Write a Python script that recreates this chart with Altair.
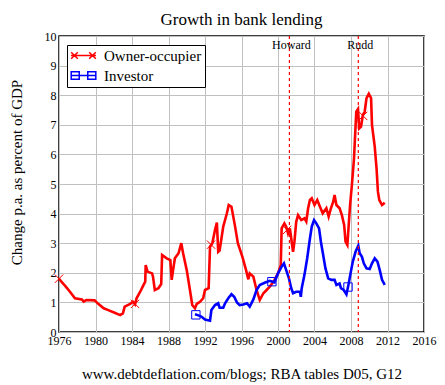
import altair as alt
import pandas as pd

FONT = "Liberation Serif"

# ---- data ----
series_names = ["Owner-occupier", "Investor"]

owner_year = [1976.0, 1976.4, 1976.7, 1977.2, 1977.75, 1978.5, 1978.7, 1979.0, 1979.9, 1980.3,
              1980.9, 1981.4, 1982.1, 1982.7, 1983.0, 1983.2, 1983.8, 1984.1, 1984.33, 1984.5,
              1984.9, 1985.2, 1985.45, 1985.5, 1985.7, 1986.2, 1986.3, 1986.5, 1986.9, 1987.2,
              1987.3, 1987.8, 1988.2, 1988.35, 1988.5, 1988.7, 1989.1, 1989.4, 1989.6, 1990.0,
              1990.35, 1990.6, 1990.9, 1991.1, 1991.45, 1991.8, 1992.0, 1992.4, 1992.55, 1992.8,
              1993.1, 1993.3, 1993.45, 1993.6, 1994.0, 1994.4, 1994.6, 1994.9, 1995.3, 1995.6,
              1996.1, 1996.5, 1996.75, 1996.9, 1997.3, 1997.65, 1998.0, 1998.4, 1998.75, 1999.1,
              1999.6, 2000.0, 2000.3, 2000.4, 2000.7, 2000.9, 2001.1, 2001.3, 2001.45, 2001.65,
              2001.8, 2002.0, 2002.2, 2002.55, 2002.9, 2003.1, 2003.3, 2003.5, 2003.7, 2004.0,
              2004.3, 2004.6, 2004.9, 2005.3, 2005.55, 2005.8, 2006.05, 2006.2, 2006.4, 2006.75,
              2007.0, 2007.25, 2007.4, 2007.6, 2007.75, 2007.9, 2008.1, 2008.33, 2008.47, 2008.58,
              2008.77, 2008.9, 2009.1, 2009.3, 2009.5, 2009.7, 2009.95, 2010.2, 2010.3, 2010.6,
              2010.8, 2010.95, 2011.1, 2011.4, 2011.7]
owner_value = [1.80, 1.65, 1.55, 1.36, 1.14, 1.10, 1.03, 1.08, 1.07, 0.95,
               0.80, 0.74, 0.65, 0.57, 0.63, 0.86, 0.95, 1.02, 0.93, 1.14,
               1.36, 1.55, 1.70, 2.26, 2.04, 1.98, 1.87, 1.42, 1.48, 1.62,
               2.60, 2.49, 2.43, 1.76, 2.09, 2.49, 2.66, 3.00, 2.66, 2.09,
               1.42, 0.91, 0.80, 0.95, 1.02, 1.14, 1.42, 1.48, 2.88, 3.00,
               3.45, 3.70, 2.71, 2.75, 3.56, 4.01, 4.29, 4.23, 3.56, 3.00,
               2.54, 2.09, 1.78, 1.98, 1.87, 1.42, 1.08, 1.31, 1.42, 1.53,
               1.75, 1.98, 2.26, 3.50, 3.67, 3.56, 3.33, 3.50, 3.16, 2.71,
               3.05, 3.73, 3.95, 3.78, 3.84, 3.73, 4.18, 4.46, 4.52, 4.29,
               4.46, 4.23, 4.01, 4.18, 3.90, 4.18, 4.40, 4.63, 4.29, 4.18,
               3.95, 3.62, 3.05, 2.94, 3.62, 4.29, 4.97, 5.87, 6.77, 7.44,
               7.53, 6.88, 6.94, 7.33, 7.44, 7.90, 8.05, 7.90, 7.00, 6.26,
               5.53, 4.74, 4.46, 4.29, 4.37]

investor_year = [1990.9, 1991.2, 1991.6, 1992.0, 1992.55, 1992.7, 1993.1, 1993.45, 1993.6, 1994.0,
                 1994.2, 1994.55, 1994.9, 1995.2, 1995.5, 1995.8, 1996.2, 1996.6, 1996.9, 1997.3,
                 1997.65, 1998.0, 1998.6, 1999.1, 1999.6, 2000.0, 2000.4, 2000.65, 2000.9, 2001.2,
                 2001.45, 2001.65, 2002.0, 2002.4, 2002.5, 2002.6, 2002.9, 2003.2, 2003.5, 2003.7,
                 2003.95, 2004.2, 2004.5, 2004.7, 2004.95, 2005.2, 2005.5, 2005.85, 2006.2, 2006.4,
                 2006.75, 2006.9, 2007.2, 2007.5, 2007.75, 2007.95, 2008.2, 2008.5, 2008.8, 2008.95,
                 2009.2, 2009.4, 2009.7, 2010.05, 2010.3, 2010.6, 2010.9, 2011.15, 2011.4, 2011.7]
investor_value = [0.60, 0.57, 0.52, 0.42, 0.38, 0.74, 0.91, 0.97, 0.82, 0.82,
                  0.97, 1.14, 1.28, 1.19, 1.00, 0.91, 0.93, 0.97, 0.86, 1.10,
                  1.42, 1.59, 1.67, 1.73, 1.68, 1.98, 2.21, 2.32, 2.09, 1.81,
                  1.48, 1.31, 1.36, 1.36, 1.19, 1.48, 1.93, 2.49, 3.16, 3.56,
                  3.78, 3.67, 3.50, 3.05, 2.60, 2.15, 1.81, 1.76, 1.76, 1.59,
                  1.64, 1.48, 1.42, 1.27, 1.64, 1.98, 2.38, 2.71, 2.92, 2.66,
                  2.54, 2.32, 2.15, 2.13, 2.32, 2.49, 2.38, 2.09, 1.76, 1.59]

owner_marker_year = [1976.0, 1984.33, 1992.67, 2001.0, 2009.33]
owner_marker_value = [1.80, 0.95, 2.95, 3.45, 7.30]
investor_marker_year = [1991.0, 1999.33, 2007.67]
investor_marker_value = [0.58, 1.70, 1.52]

pm_year = [2001.25, 2008.8]
pm_name = ["Howard", "Rudd"]

x_ticks = list(range(1976, 2017, 4))
y_ticks = list(range(0, 11))

RED = "#ff0000"
BLUE = "#0000ff"

# ---- tables ----
owner_df = pd.DataFrame({"year": owner_year, "value": owner_value})
inv_df = pd.DataFrame({"year": investor_year, "value": investor_value})
owner_mk = pd.DataFrame({"year": owner_marker_year, "value": owner_marker_value})
inv_mk = pd.DataFrame({"year": investor_marker_year, "value": investor_marker_value})
pm_df = pd.DataFrame({"year": pm_year, "name": pm_name})
legend_df = pd.DataFrame({"series": series_names, "year": [1900.0, 1900.0], "value": [-5.0, -5.0]})

X_PATH = "M-1,-1L1,1M-1,1L1,-1"
LEG_RED = ("M-2.08,0H2.08M-2.05,-0.55L-0.95,0.55M-2.05,0.55L-0.95,-0.55"
           "M0.95,-0.55L2.05,0.55M0.95,0.55L2.05,-0.55")
LEG_BLUE = "M-2.08,0H2.08M-2.05,-0.64H-0.71V0.64H-2.05ZM0.71,-0.64H2.05V0.64H0.71Z"

color_scale = alt.Scale(domain=series_names, range=[RED, BLUE])
shape_scale = alt.Scale(domain=series_names, range=[LEG_RED, LEG_BLUE])

x_enc = alt.X("year:Q", scale=alt.Scale(domain=[1976, 2016], nice=False, zero=False),
              axis=alt.Axis(values=x_ticks, format="d", labelPadding=3, labelFlush=False,
                            labelOverlap=False, labelFont=FONT, labelFontSize=12,
                            title="www.debtdeflation.com/blogs; RBA tables D05, G12",
                            titleFont=FONT, titleFontSize=15, titlePadding=20))
y_enc = alt.Y("value:Q", scale=alt.Scale(domain=[0, 10], nice=False),
              axis=alt.Axis(values=y_ticks, labelPadding=3, labelFlush=False,
                            labelFont=FONT, labelFontSize=12,
                            title="Change p.a. as percent of GDP", titleFont=FONT, titleFontSize=15,
                            titleX=-43, titleY=136, titleAlign="center", titleBaseline="middle"))

leg = alt.Legend(orient="none", legendX=8, legendY=9, title=None,
                 strokeColor="black", fillColor="white", padding=3,
                 labelFont=FONT, labelFontSize=15, labelColor="black",
                 symbolSize=144, symbolStrokeWidth=1.5, symbolOffset=6,
                 labelOffset=13, rowPadding=4,
                 labelExpr="datum.label + '\u00a0\u00a0\u00a0\u00a0'")

owner_line = alt.Chart(owner_df).mark_line(strokeWidth=2.6, color=RED).encode(x=x_enc, y=y_enc)
inv_line = alt.Chart(inv_df).mark_line(strokeWidth=2.6, color=BLUE).encode(x=x_enc, y=y_enc)
red_marks = alt.Chart(owner_mk).mark_point(shape=X_PATH, size=70, filled=False, strokeWidth=1,
                                           opacity=1, color=RED).encode(x=x_enc, y=y_enc)
blue_marks = alt.Chart(inv_mk).mark_point(shape="square", size=70, filled=False, strokeWidth=1,
                                          opacity=1, color=BLUE).encode(x=x_enc, y=y_enc)
rules = alt.Chart(pm_df).mark_rule(color=RED, strokeDash=[3, 3], strokeWidth=1.2).encode(x=x_enc)
pm_text = alt.Chart(pm_df).mark_text(font=FONT, fontSize=12, color="black", baseline="middle", dx=2).encode(
    x=x_enc, y=alt.value(9), text="name:N")
legend_layer = alt.Chart(legend_df).mark_point(filled=False, clip=True, size=144, strokeWidth=1.5,
                                               opacity=1).encode(
    x=x_enc, y=y_enc,
    color=alt.Color("series:N", scale=color_scale, legend=leg),
    shape=alt.Shape("series:N", scale=shape_scale, legend=leg),
)

chart = alt.layer(owner_line, inv_line, rules, pm_text, red_marks, blue_marks, legend_layer).properties(
    width=365, height=296,
    autosize=alt.AutoSizeParams(type="none"),
    padding={"left": 51, "top": 28, "right": 13, "bottom": 50},
    title=alt.Title("Growth in bank lending", font=FONT, fontSize=17, fontWeight="normal",
                    color="black", frame="group", anchor="middle", offset=1),
).configure_view(stroke="black", strokeWidth=1.5).configure_axis(
    grid=True, gridColor="#c0c0c0", gridWidth=1, domain=False, ticks=False,
    labelFont=FONT, labelFontSize=12, labelColor="black",
    titleFont=FONT, titleFontWeight="normal", titleColor="black",
).configure_legend(labelFont=FONT, labelFontSize=15, labelColor="black")

chart.save("out.html", embed_options={"renderer": "svg", "actions": False})
